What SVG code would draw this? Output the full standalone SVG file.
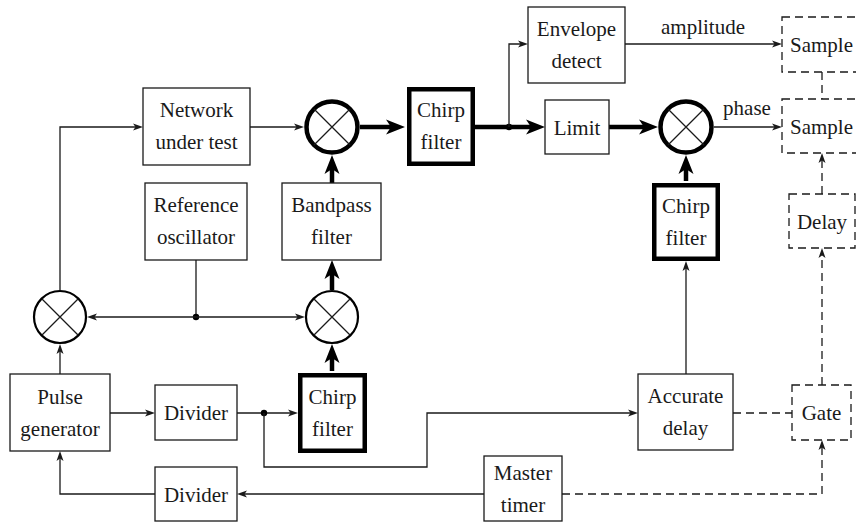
<svg xmlns="http://www.w3.org/2000/svg" width="856" height="530" viewBox="0 0 856 530">
<defs>
<style>
text{font-family:'Liberation Serif','DejaVu Serif',serif;font-size:21px;fill:#1a1a1a;text-anchor:middle}
.box{fill:#fff;stroke:#1a1a1a;stroke-width:1.3}
.tbox{fill:#fff;stroke:#000;stroke-width:4.5}
.dbox{fill:#fff;stroke:#1a1a1a;stroke-width:1.3;stroke-dasharray:8 5}
.mix{fill:#fff;stroke:#000;stroke-width:2.2}
.tmix{fill:#fff;stroke:#000;stroke-width:4.5}
.x{stroke:#1a1a1a;stroke-width:1.3}
.w{fill:none;stroke:#1a1a1a;stroke-width:1.3}
.wa{fill:none;stroke:#1a1a1a;stroke-width:1.3;marker-end:url(#a)}
.ta{fill:none;stroke:#000;stroke-width:4.5;marker-end:url(#ta)}
.da{fill:none;stroke:#1a1a1a;stroke-width:1.3;stroke-dasharray:8 5;marker-end:url(#a)}
.d{fill:none;stroke:#1a1a1a;stroke-width:1.3;stroke-dasharray:8 5}
</style>
<marker id="a" viewBox="-5 -6 14 12" refX="0" refY="0" markerWidth="14" markerHeight="12" markerUnits="userSpaceOnUse" orient="auto">
<path d="M-3,-3.5 L7,0 L-3,3.5 L-0.5,0 z" fill="#1a1a1a"/>
</marker>
<marker id="ta" viewBox="-8 -9 24 18" refX="0" refY="0" markerWidth="24" markerHeight="18" markerUnits="userSpaceOnUse" orient="auto">
<path d="M-6,-7.5 L13,0 L-6,7.5 L-1,0 z" fill="#000"/>
</marker>
</defs>

<g id="connectors">
<path class="wa" d="M60,290 V127 H136"/>
<path class="wa" d="M250,127 H297"/>
<path class="ta" d="M360,127 H392"/>
<path class="ta" d="M475,127 H532"/>
<circle cx="509" cy="127" r="3.2" fill="#000"/>
<path class="wa" d="M509,127 V44 H521"/>
<path class="ta" d="M609,127 H645"/>
<path class="wa" d="M625,44 H775"/>
<text x="703" y="34">amplitude</text>
<path class="wa" d="M714,127 H775"/>
<text x="747" y="115">phase</text>
<path class="ta" d="M332,183 V168"/>
<path class="ta" d="M332,290 V273"/>
<path class="ta" d="M332,371 V357"/>
<path class="w" d="M196,260 V317"/>
<circle cx="196" cy="317" r="3.2" fill="#000"/>
<path class="wa" d="M196,317 H94"/>
<path class="wa" d="M196,317 H298"/>
<path class="wa" d="M60,374 V351"/>
<path class="wa" d="M110,413 H148"/>
<path class="wa" d="M237,413 H291"/>
<circle cx="264" cy="413" r="3.2" fill="#000"/>
<path class="wa" d="M264,413 V467 H427 V413 H631"/>
<path class="wa" d="M686,374 V268"/>
<path class="ta" d="M686,181 V168"/>
<path class="wa" d="M484,494 H244"/>
<path class="wa" d="M155,494 H60 V458"/>
<path class="da" d="M562,494 H822 V447"/>
<path class="d" d="M733,413 H792"/>
<path class="da" d="M822,385 V255"/>
<path class="da" d="M822,194 V160"/>
<path class="d" d="M822,72 V99"/>
</g>

<g id="network"><rect class="box" x="143" y="88" width="107" height="77"/><text x="196.5" y="117">Network</text><text x="196.5" y="149">under test</text></g>
<g id="mixer1"><circle class="tmix" cx="332" cy="127" r="25.5"/><path class="x" d="M314,109 L350,145 M350,109 L314,145"/></g>
<g id="chirp1"><rect class="tbox" x="409.25" y="89.25" width="63.5" height="74.5"/><text x="441" y="117">Chirp</text><text x="441" y="149">filter</text></g>
<g id="envelope"><rect class="box" x="528" y="7" width="97" height="76"/><text x="576.5" y="36">Envelope</text><text x="576.5" y="68">detect</text></g>
<g id="limit"><rect class="box" x="545" y="100" width="64" height="54"/><text x="577" y="134.5">Limit</text></g>
<g id="mixer2"><circle class="tmix" cx="686" cy="127" r="25.5"/><path class="x" d="M668,109 L704,145 M704,109 L668,145"/></g>
<g id="sample1"><rect class="dbox" x="782" y="17" width="90" height="55"/><text x="790" y="51.5" style="text-anchor:start">Sample</text></g>
<g id="sample2"><rect class="dbox" x="782" y="99" width="90" height="54"/><text x="790" y="133.5" style="text-anchor:start">Sample</text></g>
<g id="refosc"><rect class="box" x="145" y="183" width="102" height="77"/><text x="196" y="212">Reference</text><text x="196" y="244">oscillator</text></g>
<g id="bandpass"><rect class="box" x="282" y="183" width="99" height="77"/><text x="331.5" y="212">Bandpass</text><text x="331.5" y="244">filter</text></g>
<g id="chirp2"><rect class="tbox" x="654.25" y="185.25" width="63.5" height="73.5"/><text x="686" y="213">Chirp</text><text x="686" y="245">filter</text></g>
<g id="delay"><rect class="dbox" x="789" y="194" width="66" height="54"/><text x="822" y="228.5">Delay</text></g>
<g id="mixerL"><circle class="mix" cx="60" cy="317" r="26"/><path class="x" d="M42,299 L78,335 M78,299 L42,335"/></g>
<g id="mixerM"><circle class="mix" cx="332" cy="317" r="26"/><path class="x" d="M314,299 L350,335 M350,299 L314,335"/></g>
<g id="pulse"><rect class="box" x="10" y="374" width="100" height="77"/><text x="60" y="403.5">Pulse</text><text x="60" y="435.5">generator</text></g>
<g id="divider1"><rect class="box" x="155" y="385" width="82" height="55"/><text x="196" y="420">Divider</text></g>
<g id="chirp3"><rect class="tbox" x="300.25" y="375.25" width="64.5" height="75.5"/><text x="332.5" y="404">Chirp</text><text x="332.5" y="436">filter</text></g>
<g id="accdelay"><rect class="box" x="638" y="374" width="95" height="76"/><text x="685.5" y="403">Accurate</text><text x="685.5" y="435">delay</text></g>
<g id="gate"><rect class="dbox" x="792" y="385" width="59" height="55"/><text x="821.5" y="420">Gate</text></g>
<g id="divider2"><rect class="box" x="155" y="467" width="82" height="54"/><text x="196" y="501.5">Divider</text></g>
<g id="master"><rect class="box" x="484" y="456" width="78" height="65"/><text x="523" y="480">Master</text><text x="523" y="512">timer</text></g>
</svg>
